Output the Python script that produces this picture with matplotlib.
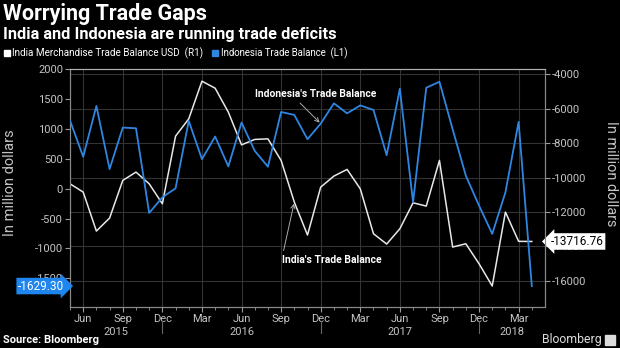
import matplotlib
matplotlib.use("Agg")
import matplotlib.pyplot as plt
import matplotlib.transforms as mtransforms
from matplotlib.patches import Rectangle
import pandas as pd

plt.rcParams['font.family'] = ['Roboto', 'DejaVu Sans']
plt.rcParams['axes.unicode_minus'] = False

# ---------------- data ----------------
months = pd.period_range("2015-05", "2018-04", freq="M")
indonesia = [1140, 533, 1383, 327, 1022, 1010, -407, -145, 5, 1133, 493, 872,
             372, 1105, 633, 367, 1283, 1233, 827, 1088, 1427, 1260, 1393, 1316,
             560, 1672, -228, 1688, 1788, 993, 217, -283, -757, -62, 1117, -1629.30]
india = [-10360, -10843, -13111, -12355, -10163, -9680, -10360, -11523, -7587, -6581,
         -4390, -4797, -6192, -8093, -7779, -7744, -9000, -11424, -13343, -10552,
         -9913, -9523, -10651, -13267, -13866, -12977, -11465, -11657, -9000, -14041,
         -13849, -15012, -16308, -12006, -13709, -13716.76]
left_ticks = [2000, 1500, 1000, 500, 0, -500, -1000, -1500]
right_ticks = [-4000, -6000, -8000, -10000, -12000, -14000, -16000]
title = "Worrying Trade Gaps"
subtitle = "India and Indonesia are running trade deficits"
legend_india = "India Merchandise Trade Balance USD  (R1)"
legend_indo = "Indonesia Trade Balance  (L1)"

BLUE = '#2f86e2'
WHITE = '#e8e8e8'
TICKC = '#c4c4c4'
GRID = '#333333'

x = list(range(len(months)))

fig = plt.figure(figsize=(6.2, 3.48), dpi=100, facecolor='black')
W, H = 620, 348
L, R, T, B = 70, 545, 68.5, 306.7
ax = fig.add_axes([L / W, 1 - B / H, (R - L) / W, (B - T) / H])
ax.set_facecolor('black')
ax2 = ax.twinx()

# host axis: India on the right
ax.yaxis.tick_right()
ax.plot(x, india, color=WHITE, lw=1.1, zorder=3)
ax.set_ylim(-17512, -3651)
ax.set_yticks(right_ticks)
ax.set_yticklabels([str(v) for v in right_ticks])

# twin: Indonesia on the left
ax2.yaxis.tick_left()
ax2.plot(x, indonesia, color=BLUE, lw=1.3, zorder=3)
ax2.set_ylim(-1975, 2010)
ax2.set_yticks(left_ticks)
ax2.set_yticklabels([str(v) for v in left_ticks])

ax.set_xlim(0, len(months))
quarter_idx = [i for i, m in enumerate(months) if m.month in (3, 6, 9, 12)]
ax.set_xticks(quarter_idx)
ax.set_xticklabels([months[i].strftime('%b') for i in quarter_idx])
ax.set_xticks(x, minor=True)

ax.grid(True, which='major', color=GRID, lw=0.8)
ax2.grid(False)

for a in (ax, ax2):
    for s in a.spines.values():
        s.set_color('#8a8a8a')
        s.set_linewidth(0.8)
    a.spines['top'].set_color('#b0b0b0')
    a.tick_params(axis='both', colors='#9a9a9a', labelcolor=TICKC, labelsize=8,
                  length=3.5, width=0.8, pad=1.5)
    a.tick_params(axis='x', which='minor', length=2.5, colors='#9a9a9a')
ax.tick_params(axis='x', pad=2)

# year labels and separators
trans = mtransforms.blended_transform_factory(ax.transData, ax.transAxes)
dec_idx = [i for i, m in enumerate(months) if m.month == 12]
bounds = [0] + dec_idx + [len(months)]
years = [2015, 2016, 2017, 2018]
for k, yr in enumerate(years):
    c = (bounds[k] + bounds[k + 1]) / 2
    ax.text(c, -0.085, str(yr), transform=trans, ha='center', va='top',
            color=TICKC, fontsize=8)
for d in dec_idx:
    ax.plot([d, d], [-0.06, -0.112], transform=trans, color='#666666', lw=0.8,
            clip_on=False)

# annotations
ann1 = ax2.annotate("Indonesia's Trade Balance", xy=(19, indonesia[19]),
                    xytext=(255, H - 94.3), textcoords='figure pixels',
                    ha='left', va='center', color='white', fontsize=7.3, fontweight='bold',
                    arrowprops=dict(arrowstyle='->', color='#aaaaaa', lw=0.7,
                                    relpos=(0.34, 0.0), shrinkA=1, shrinkB=1))
ann2 = ax.annotate("India's Trade Balance", xy=(17, india[17]),
                   xytext=(281.7, H - 259.7), textcoords='figure pixels',
                   ha='left', va='center', color='white', fontsize=7.3, fontweight='bold',
                   arrowprops=dict(arrowstyle='->', color='#aaaaaa', lw=0.7,
                                   relpos=(0.01, 1.0), shrinkA=1, shrinkB=1))

# last value tags
tl = mtransforms.blended_transform_factory(ax2.transAxes, ax2.transData)
ax2.text(-0.012, indonesia[-1], f"{indonesia[-1]:.2f}", transform=tl, ha='right',
         va='center', color='white', fontsize=8.5, zorder=10, clip_on=False,
         bbox=dict(boxstyle='rarrow,pad=0.15', fc='#1e86ee', ec='none'))
tr = mtransforms.blended_transform_factory(ax.transAxes, ax.transData)
ax.text(1.012, india[-1], f"{india[-1]:.2f}", transform=tr, ha='left',
        va='center', color='black', fontsize=8.5, zorder=10, clip_on=False,
        bbox=dict(boxstyle='larrow,pad=0.15', fc='white', ec='none'))

# axis titles
yl1 = fig.text(10 / W, 1 - 183 / H, "In million dollars", rotation=90, ha='center',
               va='center', color=TICKC, fontsize=10)
yl2 = fig.text(611 / W, 1 - 174 / H, "In million dollars", rotation=270, ha='center',
               va='center', color=TICKC, fontsize=10)

# header
t1 = fig.text(3 / W, 1 - 14 / H, title, ha='left', va='center', color='white',
              fontsize=15.5, fontweight='bold')
t2 = fig.text(3 / W, 1 - 35 / H, subtitle, ha='left', va='center', color='white',
              fontsize=11.7, fontweight='bold')
fig.patches.append(Rectangle((4 / W, 1 - 56 / H), 6 / W, 6 / H, color='white',
                             transform=fig.transFigure, figure=fig))
lg1 = fig.text(12 / W, 1 - 53 / H, legend_india, ha='left', va='center', color='white',
               fontsize=7.2)
fig.patches.append(Rectangle((212 / W, 1 - 56 / H), 6 / W, 6 / H, color=BLUE,
                             transform=fig.transFigure, figure=fig))
lg2 = fig.text(221 / W, 1 - 53 / H, legend_indo, ha='left', va='center', color='white',
               fontsize=7.2)

# footer
src = fig.text(3 / W, 1 - 340 / H, "Source: Bloomberg", ha='left', va='center',
               color='white', fontsize=7.9, fontweight='bold')
bb = fig.text(602 / W, 1 - 340 / H, "Bloomberg", ha='right', va='center',
              color='#dddddd', fontsize=9.5)
fig.patches.append(Rectangle((605 / W, 1 - 345 / H), 10 / W, 10 / H, color='#dddddd',
                             transform=fig.transFigure, figure=fig))

# scale text sizes so their widths match the reference
renderer = fig.canvas.get_renderer()
targets = [(t1, 204, 'w'), (t2, 332, 'w'), (lg1, 191, 'w'), (lg2, 129, 'w'),
           (ann1, 122, 'w'), (ann2, 100, 'w'), (src, 96, 'w'), (bb, 60, 'w'),
           (yl1, 107, 'h'), (yl2, 105, 'h')]
for art, tgt, dim in targets:
    ext = art.get_window_extent(renderer)
    cur = ext.width if dim == 'w' else ext.height
    if cur > 0:
        art.set_fontsize(art.get_fontsize() * tgt / cur)

fig.savefig("out.png", dpi=100, facecolor='black')
